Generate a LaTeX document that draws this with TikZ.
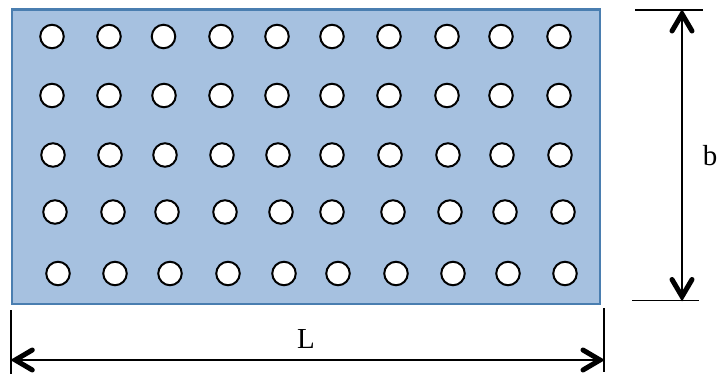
\documentclass[tikz,border=0pt]{standalone}
\usepackage{fontspec}
\setmainfont{Liberation Serif}
\definecolor{platefill}{HTML}{A6C1E0}
\definecolor{plateedge}{HTML}{4A7EB0}
\tikzset{
  plate/.style={fill=platefill,draw=plateedge,line width=2.1pt},
  hole/.style={circle,draw=black,fill=white,line width=2pt,minimum size=23.5pt,inner sep=0pt},
  tick/.style={draw=black,line width=1.8pt},
  dimline/.style={draw=black,line width=2.2pt},
  barb/.style={draw=black,line width=5pt,line cap=round,line join=miter},
  dimlabel/.style={font=\fontsize{29}{29}\selectfont,inner sep=0pt}
}
\begin{document}
\begin{tikzpicture}[x=1pt,y=-1pt]
\useasboundingbox (0,0) rectangle (722,374);
\node[plate,minimum width=587.5pt,minimum height=294.5pt,inner sep=0pt,anchor=north west] (plate) at (11,8.5) {};
\foreach \r/\y/\xs in {
 1/36.5/{52,109,163.5,221,277,332,389,447,501,559},
 2/95.5/{52,109,164,221,277,332,389,447,501,559},
 3/155/{53,110,165,222,278,332,390,448,502,560},
 4/212/{55,113,167,225,281,332,393,450,505,563},
 5/273.5/{58,115,170,228,284,338,396,453,508,565}}{
  \foreach \x [count=\c] in \xs {
    \node[hole] (h\r-\c) at (\x,\y) {};
  }
}
\coordinate (bt1) at (635,10);
\coordinate (bt2) at (703,10);
\coordinate (bb1) at (632,300.5);
\coordinate (bb2) at (699,300.5);
\coordinate (bu) at (682,10);
\coordinate (bd) at (682,300.5);
\coordinate (ll1) at (11.3,310);
\coordinate (ll2) at (11.3,374);
\coordinate (lr1) at (604,308);
\coordinate (lr2) at (604,372);
\coordinate (la) at (11.3,360);
\coordinate (lb) at (604,360);
\draw[tick] (bt1) -- (bt2);
\draw[tick] (bb1) -- (bb2);
\draw[tick] (ll1) -- (ll2);
\draw[tick] (lr1) -- (lr2);
\draw[dimline] (bu) -- (bd);
\draw[dimline] (la) -- (lb);
\draw[barb] ([shift={(-10,21)}]bu) -- ([shift={(0,4)}]bu) -- ([shift={(10,21)}]bu);
\draw[barb] ([shift={(-10,-21)}]bd) -- ([shift={(0,-4)}]bd) -- ([shift={(10,-21)}]bd);
\draw[barb] ([shift={(21,-10)}]la) -- ([shift={(4,0)}]la) -- ([shift={(21,10)}]la);
\draw[barb] ([shift={(-21,-10)}]lb) -- ([shift={(-4,0)}]lb) -- ([shift={(-21,10)}]lb);
\node[dimlabel] (lL) at (306,339) {L};
\node[dimlabel] (lW) at (710,156) {b};
\end{tikzpicture}
\end{document}
